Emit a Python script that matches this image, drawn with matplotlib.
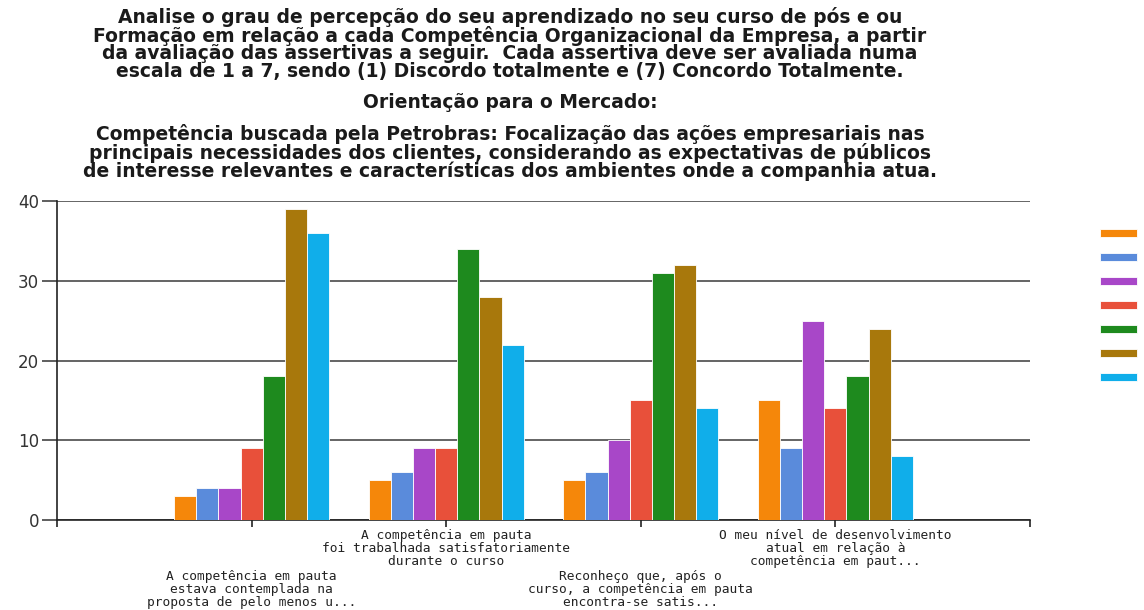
import matplotlib
matplotlib.use("Agg")
import matplotlib.pyplot as plt
import numpy as np

# Survey summary: number of answers per scale point (1..7) for each statement
categories = [
    "A competência em pauta\nestava contemplada na\nproposta de pelo menos u...",
    "A competência em pauta\nfoi trabalhada satisfatoriamente\ndurante o curso",
    "Reconheço que, após o\ncurso, a competência em pauta\nencontra-se satis...",
    "O meu nível de desenvolvimento\natual em relação à\ncompetência em paut...",
]
scale_1 = [3, 5, 5, 15]
scale_2 = [4, 6, 6, 9]
scale_3 = [4, 9, 10, 25]
scale_4 = [9, 9, 15, 14]
scale_5 = [18, 34, 31, 18]
scale_6 = [39, 28, 32, 24]
scale_7 = [36, 22, 14, 8]
series = [scale_1, scale_2, scale_3, scale_4, scale_5, scale_6, scale_7]
colors = ["#F5870A", "#5A8BDB", "#A847C8", "#E8503A", "#1E8A1E", "#A8780C", "#10AEEA"]
y_ticks = [0, 10, 20, 30, 40]

question = ("Analise o grau de percepção do seu aprendizado no seu curso de pós e ou\n"
            "Formação em relação a cada Competência Organizacional da Empresa, a partir\n"
            "da avaliação das assertivas a seguir.  Cada assertiva deve ser avaliada numa\n"
            "escala de 1 a 7, sendo (1) Discordo totalmente e (7) Concordo Totalmente.")
section = "Orientação para o Mercado:"
competence = ("Competência buscada pela Petrobras: Focalização das ações empresariais nas\n"
              "principais necessidades dos clientes, considerando as expectativas de públicos\n"
              "de interesse relevantes e características dos ambientes onde a companhia atua.")

W, H = 1144, 610
fig = plt.figure(figsize=(W / 100, H / 100), dpi=100)
fig.patch.set_facecolor("white")

ax = fig.add_axes([57 / W, 1 - 520 / H, (1030 - 57) / W, (520 - 201) / H])

n = len(series)
bar_w = 0.114
x = np.arange(1, len(categories) + 1)
handles = []
for i, (vals, c) in enumerate(zip(series, colors)):
    offs = (i - (n - 1) / 2) * bar_w
    bc = ax.bar(x + offs, vals, width=bar_w, color=c, edgecolor="white",
                linewidth=0.6, zorder=3)
    handles.append(bc)

ax.set_xlim(0, 5)
ax.set_ylim(0, 40)
ax.set_yticks(y_ticks)
ax.yaxis.grid(True, color="#3a3a3a", linewidth=1.1, zorder=1)
ax.set_axisbelow(True)
for s in ["top", "right"]:
    ax.spines[s].set_visible(False)
ax.spines["left"].set_color("#222222")
ax.spines["bottom"].set_color("#222222")
ax.spines["left"].set_linewidth(1.2)
ax.spines["bottom"].set_linewidth(1.2)
ax.tick_params(axis="y", length=11, width=1.1, color="#333333",
               labelsize=12, labelcolor="#333333", pad=2)
ax.set_xticks([0, 1, 2, 3, 4, 5])
ax.set_xticklabels([])
ax.tick_params(axis="x", length=5, width=1.2, color="#222222")

# staggered category labels
for i, lab in enumerate(categories):
    y = -0.028 if i % 2 == 1 else -0.157
    ax.text(x[i], y, lab, transform=ax.get_xaxis_transform(), ha="center",
            va="top", fontsize=9.3, family=["DejaVu Sans Mono", "DejaVu Sans"],
            color="#222222", linespacing=1.0)

title_kw = dict(ha="center", va="center", multialignment="center",
                fontsize=13.5, family=["DejaVu Sans"], fontweight="bold",
                color="#1a1a1a", linespacing=0.91)
fig.text(510 / W, 1 - 44 / H, question, **title_kw)
fig.text(510 / W, 1 - 102 / H, section, **title_kw)
fig.text(510 / W, 1 - 152.5 / H, competence, **title_kw)

fig.legend(handles, [""] * n, loc="upper left",
           bbox_to_anchor=(1093 / W, 1 - 220 / H), frameon=False,
           handlelength=2.7, handleheight=0.6, labelspacing=0.72,
           fontsize=10, handletextpad=0.0, borderpad=0)

fig.savefig("out.png", dpi=100)
